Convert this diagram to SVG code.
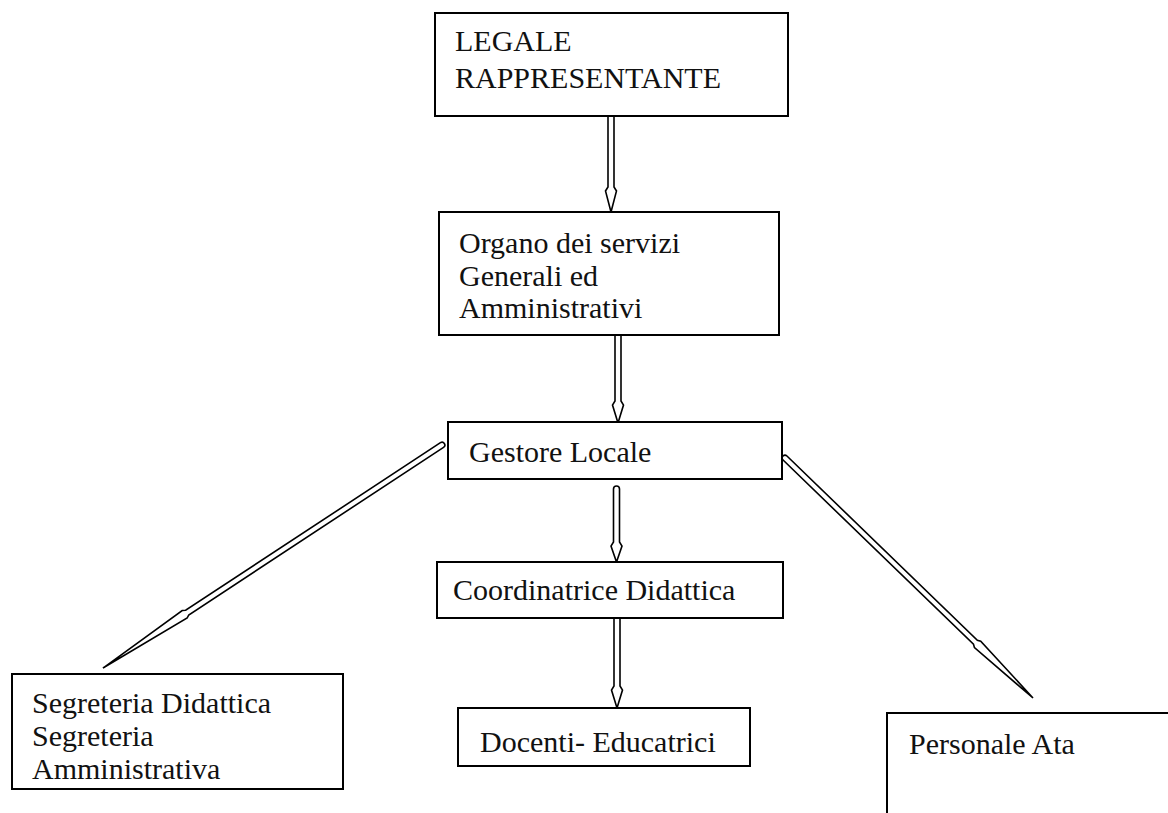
<svg xmlns="http://www.w3.org/2000/svg" width="1168" height="813" viewBox="0 0 1168 813">
<style>
.box{fill:#ffffff;stroke:#000000;stroke-width:2}
.t{font-family:"Liberation Serif","Times New Roman",serif;font-size:30px;fill:#111111}
.arr{fill:#ffffff;stroke:#000000;stroke-width:1.6;stroke-linejoin:miter}
</style>
<rect width="1168" height="813" fill="#ffffff"/>
<g id="connectors">
<path class="arr" transform="translate(611,116) rotate(90)" d="M0,-3 L71,-3 L75,-5.5 L96,0 L75,5.5 L71,3 L0,3 Z"/>
<path class="arr" transform="translate(618,335) rotate(90)" d="M0,-3 L66,-3 L70,-5.5 L88,0 L70,5.5 L66,3 L0,3 Z"/>
<path class="arr" transform="translate(616.5,489) rotate(90)" d="M0,-3 L53,-3 L57,-5.5 L73,0 L57,5.5 L53,3 L0,3 A3,3 0 0 1 0,-3 Z"/>
<path class="arr" transform="translate(617,618) rotate(90)" d="M0,-3 L68,-3 L72,-5.5 L90,0 L72,5.5 L68,3 L0,3 Z"/>
<path class="arr" transform="translate(442,445) rotate(146.66)" d="M0,-2.8 L305,-2.8 L308,-4.5 L405.8,0 L308,4.5 L305,2.8 L0,2.8 A2.8,2.8 0 0 1 0,-2.8 Z"/>
<path class="arr" transform="translate(785,458) rotate(44.06)" d="M0,-2.8 L265,-2.8 L268,-4.5 L345.1,0 L268,4.5 L265,2.8 L0,2.8 A2.8,2.8 0 0 1 0,-2.8 Z"/>
</g>
<g id="node-legale">
<rect class="box" x="435" y="13" width="353" height="103"/>
<text class="t" x="455" y="51">LEGALE</text>
<text class="t" x="455" y="88">RAPPRESENTANTE</text>
</g>
<g id="node-organo">
<rect class="box" x="439" y="212" width="340" height="123"/>
<text class="t" x="459" y="253">Organo dei servizi</text>
<text class="t" x="459" y="286">Generali ed</text>
<text class="t" x="459" y="318">Amministrativi</text>
</g>
<g id="node-gestore">
<rect class="box" x="448" y="422" width="334" height="57"/>
<text class="t" x="469" y="462">Gestore Locale</text>
</g>
<g id="node-coordinatrice">
<rect class="box" x="437" y="562" width="346" height="56"/>
<text class="t" x="453" y="600">Coordinatrice Didattica</text>
</g>
<g id="node-segreteria">
<rect class="box" x="12" y="674" width="331" height="115"/>
<text class="t" x="32" y="713">Segreteria Didattica</text>
<text class="t" x="32" y="746">Segreteria</text>
<text class="t" x="32" y="779">Amministrativa</text>
</g>
<g id="node-docenti">
<rect class="box" x="458" y="708" width="292" height="58"/>
<text class="t" x="480" y="752">Docenti- Educatrici</text>
</g>
<g id="node-personale">
<rect class="box" x="887" y="713" width="300" height="120"/>
<text class="t" x="909" y="754">Personale Ata</text>
</g>
</svg>
